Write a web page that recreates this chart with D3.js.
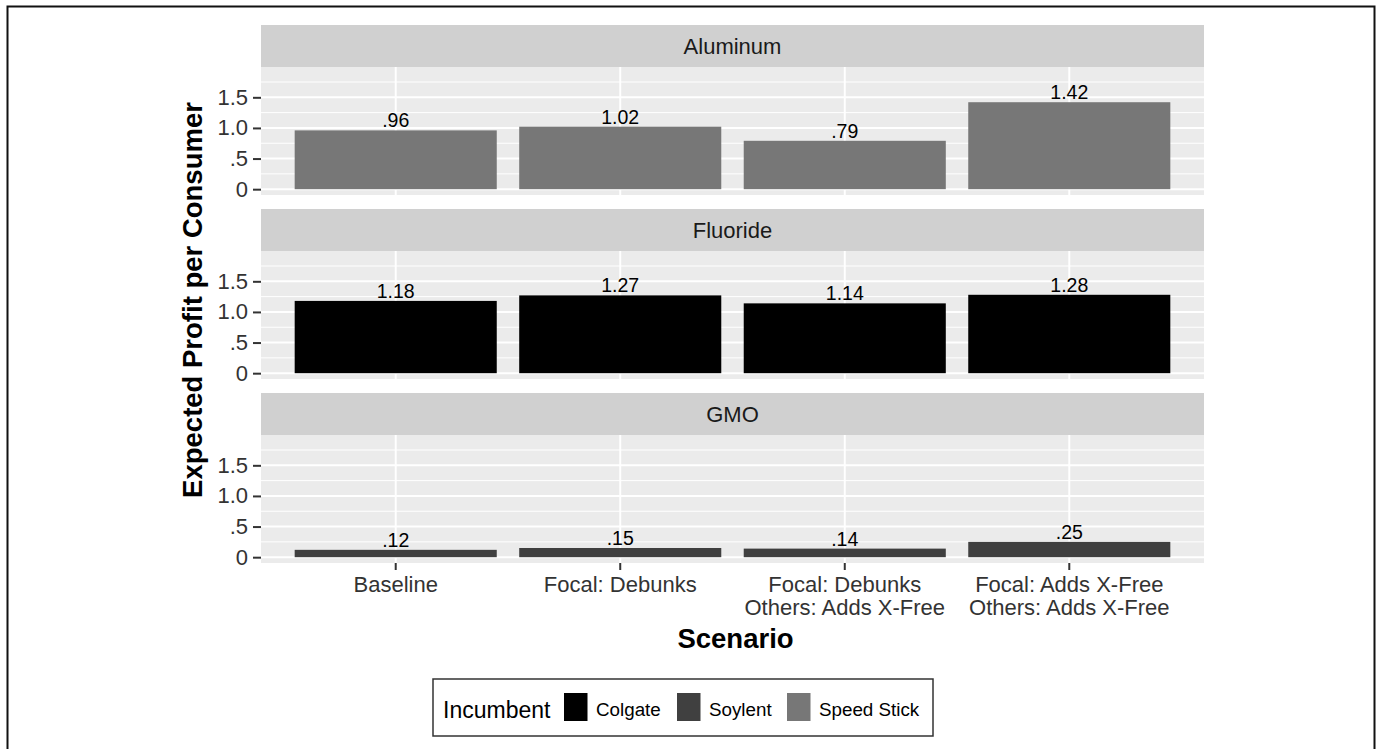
<!DOCTYPE html>
<html lang="en">
<head>
    <meta charset="UTF-8">
    <title>Expected Profit per Consumer</title>
    <script src="https://d3js.org/d3.v7.min.js"></script>
    <style>
        html, body { margin: 0; padding: 0; background: #fff; }
        svg { display: block; font-family: "Liberation Sans", Arial, sans-serif; }
    </style>
</head>
<body>
    <div id="chart"></div>
    <script>
        // Data
        const scenarios = ["Baseline", "Focal: Debunks", "Focal: Debunks\nOthers: Adds X-Free", "Focal: Adds X-Free\nOthers: Adds X-Free"];
        const facets = ["Aluminum", "Fluoride", "GMO"];
        const facetIncumbent = ["Speed Stick", "Colgate", "Soylent"];
        const aluminumValues = [0.96, 1.02, 0.79, 1.42];
        const fluorideValues = [1.18, 1.27, 1.14, 1.28];
        const gmoValues = [0.12, 0.15, 0.14, 0.25];
        const incumbents = ["Colgate", "Soylent", "Speed Stick"];
        const incumbentColors = ["#000000", "#404040", "#777777"];
        const yTicks = [0, 0.5, 1.0, 1.5];
        const yTickLabels = ["0", ".5", "1.0", "1.5"];
        const yMinor = [0.25, 0.75, 1.25, 1.75];

        const facetValues = [aluminumValues, fluorideValues, gmoValues];

        // Layout
        const width = 1380;
        const height = 749;
        const panelLeft = 261, panelRight = 1204;
        const panelTop = 25, panelStep = 184;
        const stripH = 42, bodyH = 128;

        const svg = d3.select("#chart")
            .append("svg")
            .attr("width", width)
            .attr("height", height);

        // outer frame
        svg.append("rect")
            .attr("x", 7.5).attr("y", 6.5)
            .attr("width", 1367).attr("height", 760)
            .attr("fill", "none")
            .attr("stroke", "#111")
            .attr("stroke-width", 2);

        const x = d3.scaleBand()
            .domain(scenarios)
            .range([panelLeft, panelRight])
            .paddingInner(0.1)
            .paddingOuter(0.15);

        const color = d3.scaleOrdinal().domain(incumbents).range(incumbentColors);

        const y = d3.scaleLinear()
            .domain([-0.095, 1.995])
            .range([bodyH, 0]);

        const fmt = v => d3.format(".2f")(v).replace(/^0\./, ".");

        facets.forEach((facet, i) => {
            const top = panelTop + i * panelStep;
            const g = svg.append("g").attr("transform", `translate(0,${top})`);

            // strip
            g.append("rect")
                .attr("x", panelLeft).attr("y", 0)
                .attr("width", panelRight - panelLeft).attr("height", stripH)
                .attr("fill", "#d0d0d0");
            g.append("text")
                .attr("x", (panelLeft + panelRight) / 2)
                .attr("y", stripH / 2)
                .attr("dy", "0.36em")
                .attr("text-anchor", "middle")
                .attr("font-size", 22)
                .attr("fill", "#1a1a1a")
                .text(facet);

            const body = g.append("g").attr("transform", `translate(0,${stripH})`);
            body.append("rect")
                .attr("x", panelLeft).attr("y", 0)
                .attr("width", panelRight - panelLeft).attr("height", bodyH)
                .attr("fill", "#ebebeb");

            // grid
            body.selectAll(".minor").data(yMinor).enter().append("line")
                .attr("x1", panelLeft).attr("x2", panelRight)
                .attr("y1", d => y(d)).attr("y2", d => y(d))
                .attr("stroke", "#fff").attr("stroke-width", 1);
            body.selectAll(".major").data(yTicks).enter().append("line")
                .attr("x1", panelLeft).attr("x2", panelRight)
                .attr("y1", d => y(d)).attr("y2", d => y(d))
                .attr("stroke", "#fff").attr("stroke-width", 2);
            body.selectAll(".vgrid").data(scenarios).enter().append("line")
                .attr("x1", d => x(d) + x.bandwidth() / 2).attr("x2", d => x(d) + x.bandwidth() / 2)
                .attr("y1", 0).attr("y2", bodyH)
                .attr("stroke", "#fff").attr("stroke-width", 2);

            // bars
            const vals = facetValues[i];
            body.selectAll(".bar").data(vals).enter().append("rect")
                .attr("x", (d, j) => x(scenarios[j]))
                .attr("y", d => y(d))
                .attr("width", x.bandwidth())
                .attr("height", d => y(0) - y(d))
                .attr("fill", color(facetIncumbent[i]));

            body.selectAll(".lbl").data(vals).enter().append("text")
                .attr("x", (d, j) => x(scenarios[j]) + x.bandwidth() / 2)
                .attr("y", d => y(d) - 3)
                .attr("text-anchor", "middle")
                .attr("font-size", 19.5)
                .attr("fill", "#000")
                .text(d => fmt(d));

            // y axis
            const yAxis = body.append("g")
                .attr("transform", `translate(${panelLeft},0)`)
                .call(d3.axisLeft(y).tickValues(yTicks).tickSize(8).tickPadding(5)
                    .tickFormat((d, k) => yTickLabels[k]));
            yAxis.select(".domain").remove();
            yAxis.selectAll("line").attr("stroke", "#333").attr("stroke-width", 2);
            yAxis.selectAll("text")
                .attr("font-size", 22)
                .attr("font-family", "Liberation Sans, Arial, sans-serif")
                .attr("fill", "#333");

            // x axis only on bottom panel
            if (i === facets.length - 1) {
                const xAxis = body.append("g")
                    .attr("transform", `translate(0,${bodyH})`)
                    .call(d3.axisBottom(x).tickSize(7).tickPadding(0));
                xAxis.select(".domain").remove();
                xAxis.selectAll("line").attr("stroke", "#333").attr("stroke-width", 2);
                xAxis.selectAll("text").each(function(d) {
                    const t = d3.select(this)
                        .text(null)
                        .attr("y", 0).attr("dy", null)
                        .attr("font-size", 22)
                        .attr("font-family", "Liberation Sans, Arial, sans-serif")
                        .attr("fill", "#333");
                    d.split("\n").forEach((line, k) => {
                        t.append("tspan")
                            .attr("x", 0)
                            .attr("y", 28.5 + k * 23.6)
                            .text(line);
                    });
                });
            }
        });

        // axis titles
        const bodyBottom2 = panelTop + 2 * panelStep + stripH + bodyH;
        svg.append("text")
            .attr("transform", `translate(202,${(panelTop + bodyBottom2) / 2 + 6}) rotate(-90)`)
            .attr("text-anchor", "middle")
            .attr("font-size", 27.5)
            .attr("font-weight", "bold")
            .attr("fill", "#000")
            .text("Expected Profit per Consumer");

        svg.append("text")
            .attr("x", (panelLeft + panelRight) / 2 + 3)
            .attr("y", 648)
            .attr("text-anchor", "middle")
            .attr("font-size", 27.5)
            .attr("font-weight", "bold")
            .attr("fill", "#000")
            .text("Scenario");

        // legend
        const legend = svg.append("g");
        legend.append("rect")
            .attr("x", 433).attr("y", 679)
            .attr("width", 500).attr("height", 57)
            .attr("fill", "#fff")
            .attr("stroke", "#333")
            .attr("stroke-width", 1.5);
        legend.append("text")
            .attr("x", 443).attr("y", 718)
            .attr("font-size", 23)
            .attr("fill", "#000")
            .text("Incumbent");
        const keyX = [564, 677, 787];
        incumbents.forEach((name, k) => {
            legend.append("rect")
                .attr("x", keyX[k]).attr("y", 693)
                .attr("width", 23.5).attr("height", 28)
                .attr("fill", color(name));
            legend.append("text")
                .attr("x", keyX[k] + 32).attr("y", 716)
                .attr("font-size", 18.8)
                .attr("fill", "#000")
                .text(name);
        });
    </script>
</body>
</html>
